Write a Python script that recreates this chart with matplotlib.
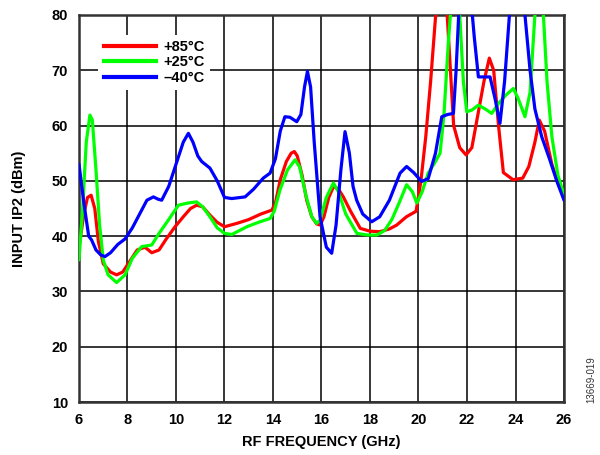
import matplotlib
matplotlib.use("Agg")
import matplotlib.pyplot as plt
from matplotlib.lines import Line2D

plt.rcParams['font.family'] = ['Liberation Sans', 'DejaVu Sans']

# +85 C
x_85 = [6.0, 6.2, 6.35, 6.5, 6.65, 6.8, 7.0, 7.3, 7.55, 7.8, 8.1, 8.4, 8.72, 9.0, 9.3, 9.6,
        9.96, 10.3, 10.6, 10.85, 11.1, 11.4, 11.7, 12.0, 12.5, 13.0, 13.5, 13.95, 14.1, 14.3,
        14.55, 14.75, 14.88, 15.0, 15.2, 15.39, 15.6, 15.8, 15.95, 16.1, 16.3, 16.5, 16.7,
        16.9, 17.2, 17.6, 18.0, 18.4, 18.8, 19.1, 19.5, 19.9, 20.1, 20.3, 20.5, 20.7, 20.9,
        21.1, 21.25, 21.45, 21.7, 21.96, 22.2, 22.45, 22.7, 22.92, 23.1, 23.3, 23.5, 23.9,
        24.3, 24.55, 24.8, 24.98, 25.2, 25.5, 25.8, 26.0]
y_85 = [38, 44, 47, 47.4, 45, 39, 35, 33.5, 33.0, 33.5, 35.5, 37.5, 38, 37, 37.5, 39.5,
        41.7, 43.5, 45, 45.6, 45.3, 43.8, 42.5, 41.7, 42.3, 43, 44, 44.7, 46, 50.2,
        53.5, 55, 55.3, 54.5, 51, 46.5, 43.5, 42.2, 42, 43.5, 47, 49, 48.5,
        47.1, 44.5, 41.4, 40.9, 40.8, 41.3, 42, 43.5, 44.5, 50, 58, 68, 79.5, 86,
        86, 75, 60, 56, 54.7, 56, 62, 68, 72.2, 70, 60, 51.5, 50.2,
        50.5, 52.6, 57, 61, 59, 53, 49, 47.5]

# +25 C
x_25 = [6.0, 6.15, 6.3, 6.45, 6.55, 6.7, 6.85, 7.0, 7.2, 7.55, 7.9, 8.2, 8.58, 9.0, 9.3, 9.7,
        10.1, 10.5, 10.85, 11.1, 11.4, 11.7, 12.0, 12.3, 12.92, 13.4, 13.88, 14.05, 14.29,
        14.6, 14.91, 15.1, 15.35, 15.6, 15.8, 15.95, 16.2, 16.49, 16.7, 17.0, 17.46, 17.9,
        18.28, 18.6, 18.9, 19.2, 19.51, 19.75, 19.93, 20.15, 20.4, 20.7, 20.89, 21.05, 21.23,
        21.4, 21.55, 21.7, 21.85, 21.99, 22.2, 22.47, 22.75, 23.02, 23.3, 23.6, 23.91, 24.1,
        24.39, 24.6, 24.8, 25.0, 25.15, 25.3, 25.5, 25.75, 26.0]
y_25 = [35.7, 45, 57, 61.9, 61, 52, 42, 35.7, 33, 31.6, 33, 36, 38.1, 38.4, 40.5, 43,
        45.6, 46, 46.2, 45.3, 43.5, 41.5, 40.5, 40.3, 41.7, 42.5, 43.2, 44.5, 48.4,
        52, 53.8, 52.5, 47.5, 43.5, 42.3, 43, 47, 49.6, 48, 44, 40.5, 40.2,
        40.2, 41, 43, 46, 49.3, 48, 46, 48, 51.4, 53.5, 55, 62, 75,
        85, 87, 80, 68, 62.5, 62.8, 63.7, 63, 62.2, 64, 65.5, 66.7, 65,
        61.6, 66, 80, 84, 80, 68, 58, 51, 47.5]

# -40 C
x_40 = [6.0, 6.2, 6.4, 6.52, 6.7, 6.9, 7.07, 7.3, 7.6, 7.9, 8.2, 8.5, 8.8, 9.07, 9.25, 9.41,
        9.7, 10.0, 10.3, 10.51, 10.7, 10.9, 11.06, 11.4, 11.7, 12.0, 12.3, 12.85, 13.2, 13.6,
        13.88, 14.1, 14.3, 14.49, 14.7, 14.98, 15.15, 15.3, 15.42, 15.55, 15.7, 15.94, 16.2,
        16.42, 16.6, 16.8, 16.97, 17.15, 17.3, 17.45, 17.7, 18.07, 18.4, 18.8, 19.24, 19.51,
        19.8, 20.13, 20.4, 20.7, 20.96, 21.2, 21.44, 21.55, 21.7, 21.9, 22.1, 22.3, 22.47,
        22.7, 22.95, 23.15, 23.36, 23.55, 23.75, 23.9, 24.1, 24.39, 24.6, 24.8, 25.08, 25.4,
        25.7, 26.0]
y_40 = [53, 46, 40, 39.3, 37.5, 36.6, 36.3, 37, 38.5, 39.5, 41.5, 44, 46.5, 47.1, 46.7, 46.5,
        49, 53, 57, 58.6, 57, 54.5, 53.5, 52.3, 50, 47, 46.8, 47.1, 48.5, 50.5,
        51.4, 54, 59, 61.6, 61.5, 60.7, 62, 67, 69.8, 67, 57, 43.5, 38,
        36.9, 42, 52, 58.9, 55, 49, 46.5, 44, 42.6, 43.5, 46.5, 51.4, 52.6,
        51.5, 49.9, 50.4, 55, 61.6, 62, 62.2, 70, 84, 90, 86, 76, 68.8,
        68.8, 68.8, 65, 60.4, 68, 80, 83, 83, 80, 70, 63, 58, 54,
        50, 46.5]

labels = ['+85°C', '+25°C', '\u201340°C']
colors = ['#FF0000', '#00FF00', '#0000FF']
x_ticks = [6, 8, 10, 12, 14, 16, 18, 20, 22, 24, 26]
y_ticks = [10, 20, 30, 40, 50, 60, 70, 80]

fig = plt.figure(figsize=(6.0, 4.55), dpi=100)
ax = fig.add_axes([79/600, 1-402/455, (564-79)/600, (402-15)/455])

for xs, ys, c in zip([x_85, x_25, x_40], [y_85, y_25, y_40], colors):
    ax.plot(xs, ys, color=c, lw=2.3, solid_joinstyle='round', solid_capstyle='round', zorder=3)

ax.set_xlim(6, 26)
ax.set_ylim(10, 80)
ax.set_xticks(x_ticks)
ax.set_yticks(y_ticks)
ax.grid(True, color='black', lw=1.1, zorder=1)
ax.set_axisbelow(True)
ax.tick_params(length=0, labelsize=10.5, pad=8)
for lab in ax.get_xticklabels() + ax.get_yticklabels():
    lab.set_fontweight('bold')
for s in ax.spines.values():
    s.set_color('#333333')
    s.set_linewidth(1.8)

ax.set_xlabel('RF FREQUENCY (GHz)', fontsize=10.5, fontweight='bold', labelpad=6)
ax.set_ylabel('INPUT IP2 (dBm)', fontsize=10.5, fontweight='bold', labelpad=18)

handles = [Line2D([0], [0], color=c, lw=3) for c in colors]
leg = ax.legend(handles, labels, loc='upper left', bbox_to_anchor=(0.025, 0.968),
                frameon=True, fancybox=False, framealpha=1, edgecolor='white',
                prop={'weight': 'bold', 'size': 10.5}, handlelength=3.6,
                handletextpad=0.5, labelspacing=0.1, borderpad=0.35)
leg.get_frame().set_linewidth(0)

fig.text(0.985, 0.115, '13669-019', rotation=90, fontsize=7, color='#333333',
         ha='center', va='bottom')

fig.savefig('out.png', dpi=100)
